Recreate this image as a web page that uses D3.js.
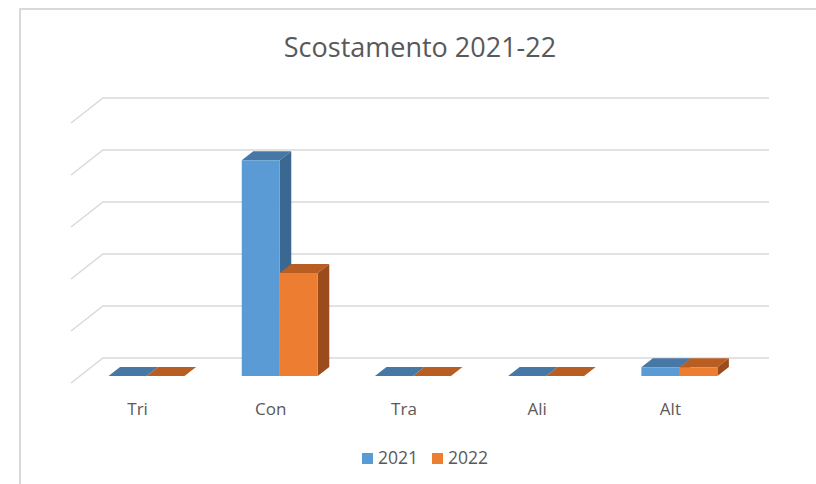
<!DOCTYPE html>
<html>
<head>
<meta charset="utf-8">
<script src="https://cdn.jsdelivr.net/npm/d3@7"></script>
<style>
  html, body { margin: 0; padding: 0; background: #fff; }
  svg { display: block; font-family: "Open Sans", "Noto Sans", sans-serif; }
</style>
</head>
<body>
<svg id="chart" width="816" height="484"></svg>
<script>
// Chart data
const categories = ["Tri", "Con", "Tra", "Ali", "Alt"];
const seriesNames = ["2021", "2022"];
const values2021 = [0, 4.15, 0, 0, 0.17];
const values2022 = [0, 1.98, 0, 0, 0.17];
const yTicks = [0, 1, 2, 3, 4, 5];

const seriesValues = [values2021, values2022];
const palette = {
  "2021": { front: "#5b9bd5", top: "#4677a5", side: "#3a6891" },
  "2022": { front: "#ed7d31", top: "#b95e23", side: "#9a4c1d" }
};

const svg = d3.select("#chart");

// Chart frame
svg.append("path")
  .attr("d", "M20,484 V9 H816")
  .attr("fill", "none")
  .attr("stroke", "#d9d9d9")
  .attr("stroke-width", 2);

// Title
svg.append("text")
  .attr("x", 420).attr("y", 57)
  .attr("text-anchor", "middle")
  .attr("font-size", 27)
  .attr("fill", "#595959")
  .text("Scostamento 2021-22");

// Oblique 3D projection: back wall plane plus a depth offset
const depthDX = -32, depthDY = 25;
const x = d3.scaleBand().domain(categories).range([103, 769]).paddingInner(0).paddingOuter(0);
const y = d3.scaleLinear().domain([0, 5]).range([358, 98]);
const xs = d3.scaleBand().domain(seriesNames).range([-38, 38]);
const proj = (px, v, d) => [px + depthDX * d, y(v) + depthDY * d];

// Gridlines on the back wall and side wall
const grid = svg.append("g").attr("stroke", "#d9d9d9").attr("stroke-width", 1.5).attr("fill", "none");
yTicks.forEach(t => {
  const a = proj(x.range()[0], t, 0), b = proj(x.range()[1], t, 0), c = proj(x.range()[0], t, 1);
  grid.append("path").attr("d", `M${c[0]},${c[1]} L${a[0]},${a[1]} L${b[0]},${b[1]}`);
});

// Bars
const dBack = 0.36, dFront = 0.72;
const poly = pts => "M" + pts.map(p => p.join(",")).join("L") + "Z";
const bars = svg.append("g");
categories.forEach((cat, i) => {
  const cx = x(cat) + x.bandwidth() / 2;
  seriesNames.forEach((s, j) => {
    const v = seriesValues[j][i];
    const x0 = cx + xs(s), x1 = x0 + xs.bandwidth();
    const col = palette[s];
    const g = bars.append("g");
    // top face
    g.append("path").attr("fill", col.top).attr("d", poly([
      proj(x0, v, dFront), proj(x1, v, dFront), proj(x1, v, dBack), proj(x0, v, dBack)]));
    if (v > 0) {
      // right side face
      g.append("path").attr("fill", col.side).attr("d", poly([
        proj(x1, v, dFront), proj(x1, v, dBack), proj(x1, 0, dBack), proj(x1, 0, dFront)]));
      // front face
      g.append("path").attr("fill", col.front).attr("d", poly([
        proj(x0, v, dFront), proj(x1, v, dFront), proj(x1, 0, dFront), proj(x0, 0, dFront)]));
    }
  });
});

// Category labels along the floor's front edge
svg.append("g").selectAll("text").data(categories).join("text")
  .attr("x", d => proj(x(d) + x.bandwidth() / 2, 0, 1)[0])
  .attr("y", 415)
  .attr("text-anchor", "middle")
  .attr("font-size", 17)
  .attr("fill", "#595959")
  .text(d => d);

// Legend
const legend = svg.append("g");
const legendX = [362, 432];
seriesNames.forEach((s, j) => {
  legend.append("rect").attr("x", legendX[j]).attr("y", 453).attr("width", 11).attr("height", 11)
    .attr("fill", palette[s].front);
  legend.append("text").attr("x", legendX[j] + 16).attr("y", 464)
    .attr("font-size", 17.5).attr("fill", "#595959").text(s);
});
</script>
</body>
</html>
